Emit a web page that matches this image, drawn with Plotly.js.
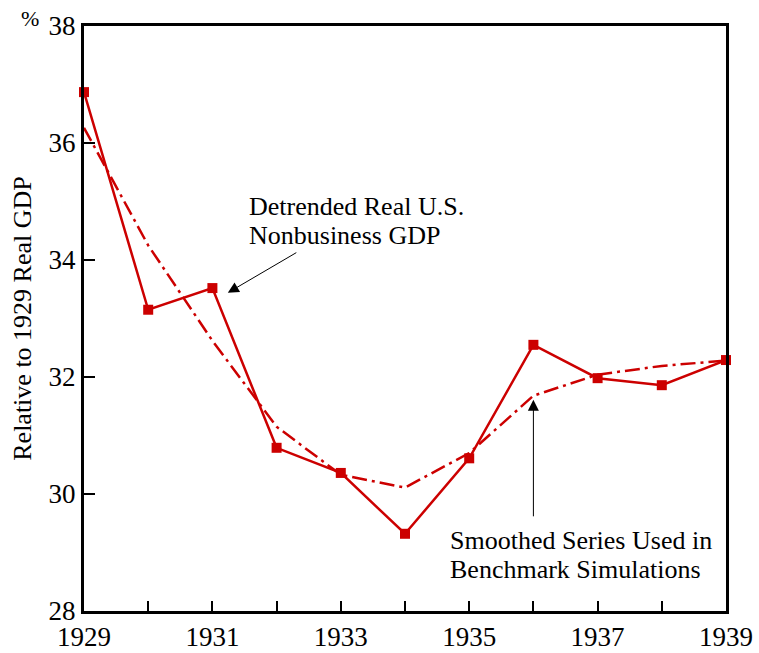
<!DOCTYPE html>
<html>
<head>
<meta charset="utf-8">
<script src="https://cdn.plot.ly/plotly-3.0.1.min.js"></script>
<style>
html,body{margin:0;padding:0;background:#fff;}
#chart{width:759px;height:653px;}
</style>
</head>
<body>
<div id="chart"></div>
<script>
var years = [1929, 1930, 1931, 1932, 1933, 1934, 1935, 1936, 1937, 1938, 1939];
var detrended = [36.87, 33.15, 33.52, 30.79, 30.36, 29.32, 30.61, 32.55, 31.98, 31.86, 32.29];
var smoothed = [36.26, 34.25, 32.62, 31.15, 30.33, 30.11, 30.70, 31.68, 32.04, 32.19, 32.28];
var xTickVals = [1929, 1931, 1933, 1935, 1937, 1939];
var yTickVals = [28, 30, 32, 34, 36, 38];

var red = '#cc0000';
var font = '"Liberation Serif", "Times New Roman", serif';

var traces = [
  {
    x: years, y: smoothed, type: 'scatter', mode: 'lines',
    line: {color: red, width: 2.5, dash: '15px,5px,3px,5px'},
    hoverinfo: 'skip', showlegend: false
  },
  {
    x: years, y: detrended, type: 'scatter', mode: 'lines+markers',
    line: {color: red, width: 2.5},
    marker: {symbol: 'square', size: 10, color: red},
    cliponaxis: false, showlegend: false
  }
];

var layout = {
  width: 759, height: 653,
  margin: {l: 84, r: 33, t: 26, b: 42},
  paper_bgcolor: '#fff', plot_bgcolor: '#fff',
  font: {family: font, color: '#000', size: 26},
  showlegend: false,
  xaxis: {
    range: [1929, 1939],
    tickvals: xTickVals,
    ticktext: xTickVals.map(String),
    ticks: 'inside', ticklen: 10, tickwidth: 2, tickcolor: '#000',
    minor: {dtick: 1, tick0: 1929, ticks: 'inside', ticklen: 10, tickwidth: 2, tickcolor: '#000'},
    showline: true, linewidth: 3, linecolor: '#000', mirror: true,
    showgrid: false, zeroline: false,
    tickfont: {family: font, size: 27},
    fixedrange: true
  },
  yaxis: {
    range: [28, 38],
    tickvals: yTickVals,
    ticks: 'inside', ticklen: 11, tickwidth: 2, tickcolor: '#000',
    showline: true, linewidth: 3, linecolor: '#000', mirror: true,
    showgrid: false, zeroline: false,
    tickfont: {family: font, size: 27},
    title: {text: 'Relative to 1929 Real GDP', font: {family: font, size: 26}, standoff: 10},
    fixedrange: true
  },
  annotations: [
    {
      xref: 'paper', yref: 'paper', x: -0.084, y: 1.012, xanchor: 'center', yanchor: 'middle',
      text: '%', showarrow: false, font: {family: font, size: 22}
    },
    {
      xref: 'paper', yref: 'paper', x: 0.254, y: 0.6906, xanchor: 'left', yanchor: 'middle',
      text: 'Detrended Real U.S.', showarrow: false, font: {family: font, size: 26}
    },
    {
      xref: 'paper', yref: 'paper', x: 0.254, y: 0.6411, xanchor: 'left', yanchor: 'middle',
      text: 'Nonbusiness GDP', showarrow: false, font: {family: font, size: 26}
    },
    {
      xref: 'x', yref: 'y', x: 1931.24, y: 33.44, ax: 70, ay: -41,
      text: '', showarrow: true, arrowhead: 2, arrowsize: 2.2, arrowwidth: 1, arrowcolor: '#000'
    },
    {
      xref: 'paper', yref: 'paper', x: 0.567, y: 0.1197, xanchor: 'left', yanchor: 'middle',
      text: 'Smoothed Series Used in', showarrow: false, font: {family: font, size: 26}
    },
    {
      xref: 'paper', yref: 'paper', x: 0.567, y: 0.0701, xanchor: 'left', yanchor: 'middle',
      text: 'Benchmark Simulations', showarrow: false, font: {family: font, size: 26}
    },
    {
      xref: 'x', yref: 'y', x: 1936, y: 31.61, ax: 0, ay: 118,
      text: '', showarrow: true, arrowhead: 2, arrowsize: 2.2, arrowwidth: 1, arrowcolor: '#000'
    }
  ]
};

Plotly.newPlot('chart', traces, layout, {displayModeBar: false, staticPlot: true});
</script>
</body>
</html>
